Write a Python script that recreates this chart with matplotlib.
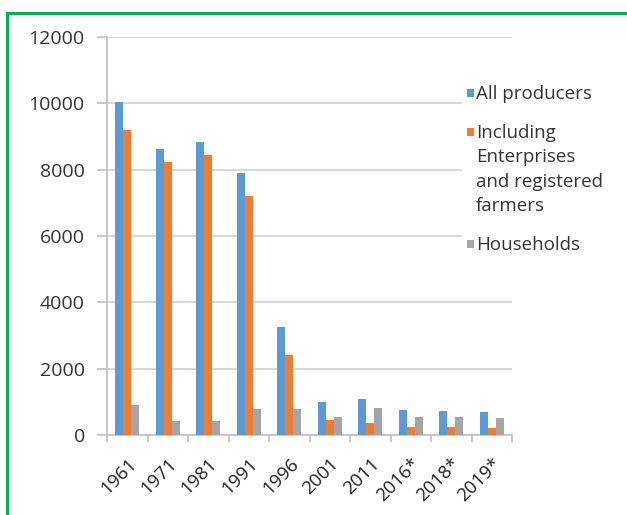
import numpy as np
import matplotlib.pyplot as plt
from matplotlib.patches import Rectangle
from matplotlib.lines import Line2D

plt.rcParams['font.family'] = ['Open Sans', 'DejaVu Sans']

years = ['1961', '1971', '1981', '1991', '1996', '2001', '2011', '2016*', '2018*', '2019*']
all_producers = [10050, 8610, 8840, 7900, 3250, 980, 1100, 750, 720, 690]
enterprises = [9200, 8220, 8450, 7200, 2420, 445, 360, 230, 230, 200]
households = [900, 420, 420, 780, 790, 555, 820, 555, 555, 525]

series_names = ['All producers', 'Including\nEnterprises\nand registered\nfarmers', 'Households']
colors = ['#5B9BD5', '#ED7D31', '#A5A5A5']

W, H = 627, 515
fig = plt.figure(figsize=(W / 100, H / 100), dpi=100)
ax = fig.add_axes([107 / W, 1 - 435 / H, 405 / W, 398 / H])

x = np.arange(len(years))
w = 0.2
for i, vals in enumerate([all_producers, enterprises, households]):
    ax.bar(x + (i - 1) * w, vals, width=w, color=colors[i], zorder=3)

ax.set_ylim(0, 12000)
ax.set_xlim(-0.5, len(years) - 0.5)
ax.set_yticks(np.arange(0, 12001, 2000))
ax.yaxis.grid(True, color='#D0D0D0', linewidth=1.2, zorder=0)
ax.set_axisbelow(True)

# x ticks at category boundaries, labels at centres
ax.set_xticks(np.arange(-0.5, len(years), 1.0))
ax.set_xticklabels([])
ax.set_xticks(x, minor=True)
ax.set_xticklabels(years, minor=True, rotation=45, ha='right', rotation_mode='anchor',
                   fontsize=13.5, color='#222222')
ax.tick_params(axis='x', which='major', length=5, color='#BFBFBF', width=1.2)
ax.tick_params(axis='x', which='minor', length=0, pad=14)
ax.tick_params(axis='y', length=7, color='#BFBFBF', width=1.2, pad=9,
               labelsize=14, labelcolor='#333333')

for s in ['top', 'right']:
    ax.spines[s].set_visible(False)
for s in ['left', 'bottom']:
    ax.spines[s].set_color('#BFBFBF')
    ax.spines[s].set_linewidth(1.2)

# legend drawn by hand (white box over the grid)
fig.add_artist(Rectangle((462 / W, 1 - 265 / H), 160 / W, 190 / H,
                         transform=fig.transFigure, facecolor='white', edgecolor='none', zorder=5))
leg_y = [93, 132, 244]
for c, name, yy in zip(colors, series_names, leg_y):
    fig.add_artist(Rectangle((467 / W, 1 - (yy + 4) / H), 7 / W, 8 / H,
                             transform=fig.transFigure, facecolor=c, edgecolor='none', zorder=6))
    fig.text(476 / W, 1 - (yy - 8) / H, name, ha='left', va='top', fontsize=13.5,
             color='#333333', linespacing=1.45, zorder=7)

# green frame
fig.add_artist(Line2D([7 / W, 1.0], [1 - 12.5 / H, 1 - 12.5 / H], color='#00B050', linewidth=2.2,
                      transform=fig.transFigure))
fig.add_artist(Line2D([7 / W, 7 / W], [0, 1 - 12.5 / H], color='#00B050', linewidth=2.2,
                      transform=fig.transFigure))

fig.savefig('out.png', dpi=100)
